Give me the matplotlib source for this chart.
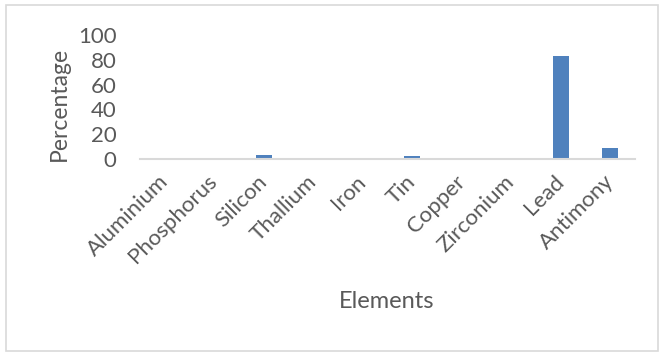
import matplotlib.pyplot as plt
from matplotlib.patches import Rectangle

# element shares in percent
elements = ["Aluminium", "Phosphorus", "Silicon", "Thallium", "Iron",
            "Tin", "Copper", "Zirconium", "Lead", "Antimony"]
percentages = [0.3, 0.05, 3.0, 0.05, 0.1, 2.2, 0.1, 0.1, 83.0, 9.0]
y_ticks = [0, 20, 40, 60, 80, 100]

plt.rcParams['font.family'] = ['Lato', 'DejaVu Sans']
text_color = '#595959'
bar_color = '#4f81bd'

fig = plt.figure(figsize=(6.59, 3.52), dpi=100)

# light frame around the whole chart
fig.patches.append(Rectangle((6 / 659, 1.5 / 352), 652 / 659, 345.5 / 352,
                             transform=fig.transFigure, fill=False,
                             edgecolor='#d9d9d9', linewidth=1.2))

ax = fig.add_axes([140 / 659, (352 - 159) / 352, 495 / 659, 124 / 352])
x = range(len(elements))
ax.bar(x, percentages, width=0.32, color=bar_color, zorder=2)

ax.set_xlim(-0.5, len(elements) - 0.5)
ax.set_ylim(0, 100)
ax.set_yticks(y_ticks)
ax.set_yticklabels([str(t) for t in y_ticks], fontsize=16, color=text_color)
ax.set_xticks(list(x))
ax.set_xticklabels(elements, rotation=45, ha='right', va='center',
                   rotation_mode='anchor', fontsize=16, color=text_color)
ax.tick_params(axis='both', length=0)
ax.tick_params(axis='x', pad=14)
ax.tick_params(axis='y', pad=17)

for side in ['top', 'right', 'left']:
    ax.spines[side].set_visible(False)
ax.spines['bottom'].set_color('#d9d9d9')
ax.spines['bottom'].set_linewidth(1.5)

# axis titles placed on the figure
fig.text(59 / 659, 1 - 104 / 352, 'Percentage', fontsize=16.5, rotation=90,
         color=text_color, ha='center', va='center')
fig.text(387 / 659, 1 - 301 / 352, 'Elements', fontsize=17,
         color=text_color, ha='center', va='center')

fig.savefig('out.png', dpi=100)
